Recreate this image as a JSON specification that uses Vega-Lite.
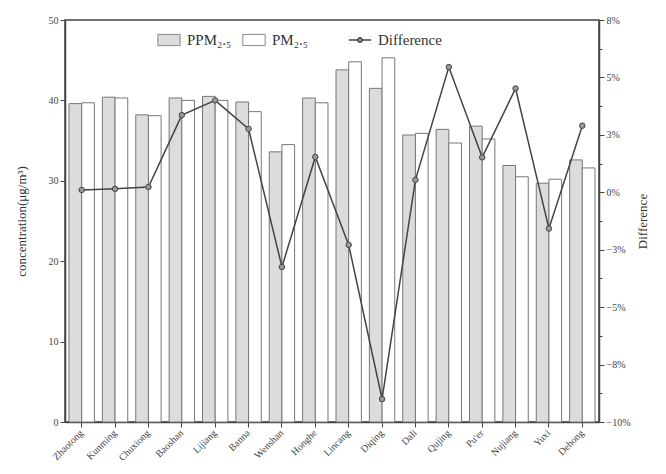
{
  "$schema": "https://vega.github.io/schema/vega-lite/v6.json",
  "width": 534,
  "height": 402,
  "autosize": {"type": "none"},
  "padding": {"left": 65, "top": 20, "right": 67, "bottom": 52},
  "background": "white",
  "config": {
    "font": "Liberation Serif",
    "view": {"stroke": "#444", "strokeWidth": 1.5},
    "axis": {
      "labelFont": "Liberation Serif",
      "titleFont": "Liberation Serif",
      "labelColor": "#444",
      "titleColor": "#333",
      "domainColor": "#444",
      "tickColor": "#444",
      "grid": false,
      "titleFontWeight": "normal",
      "labelFontSize": 10,
      "titleFontSize": 13,
      "domainWidth": 1.5,
      "tickWidth": 1
    },
    "legend": {
      "labelFont": "Liberation Serif",
      "labelFontSize": 15,
      "labelColor": "#333"
    }
  },
  "datasets": {
    "bars": [
      {"city": "Zhaotong", "series": "PPM₂.₅", "value": 39.6},
      {"city": "Zhaotong", "series": "PM₂.₅", "value": 39.7},
      {"city": "Kunming", "series": "PPM₂.₅", "value": 40.4},
      {"city": "Kunming", "series": "PM₂.₅", "value": 40.3},
      {"city": "Chuxiong", "series": "PPM₂.₅", "value": 38.2},
      {"city": "Chuxiong", "series": "PM₂.₅", "value": 38.1},
      {"city": "Baoshan", "series": "PPM₂.₅", "value": 40.3},
      {"city": "Baoshan", "series": "PM₂.₅", "value": 40.0},
      {"city": "Lijiang", "series": "PPM₂.₅", "value": 40.5},
      {"city": "Lijiang", "series": "PM₂.₅", "value": 40.0},
      {"city": "Banna", "series": "PPM₂.₅", "value": 39.8},
      {"city": "Banna", "series": "PM₂.₅", "value": 38.6},
      {"city": "Wenshan", "series": "PPM₂.₅", "value": 33.6},
      {"city": "Wenshan", "series": "PM₂.₅", "value": 34.5},
      {"city": "Honghe", "series": "PPM₂.₅", "value": 40.3},
      {"city": "Honghe", "series": "PM₂.₅", "value": 39.7},
      {"city": "Lincang", "series": "PPM₂.₅", "value": 43.8},
      {"city": "Lincang", "series": "PM₂.₅", "value": 44.8},
      {"city": "Diqing", "series": "PPM₂.₅", "value": 41.5},
      {"city": "Diqing", "series": "PM₂.₅", "value": 45.3},
      {"city": "Dali", "series": "PPM₂.₅", "value": 35.7},
      {"city": "Dali", "series": "PM₂.₅", "value": 35.9},
      {"city": "Qujing", "series": "PPM₂.₅", "value": 36.4},
      {"city": "Qujing", "series": "PM₂.₅", "value": 34.7},
      {"city": "Pu'er", "series": "PPM₂.₅", "value": 36.8},
      {"city": "Pu'er", "series": "PM₂.₅", "value": 35.2},
      {"city": "Nujiang", "series": "PPM₂.₅", "value": 31.9},
      {"city": "Nujiang", "series": "PM₂.₅", "value": 30.5},
      {"city": "Yuxi", "series": "PPM₂.₅", "value": 29.7},
      {"city": "Yuxi", "series": "PM₂.₅", "value": 30.2},
      {"city": "Dehong", "series": "PPM₂.₅", "value": 32.6},
      {"city": "Dehong", "series": "PM₂.₅", "value": 31.6}
    ],
    "diff": [
      {"city": "Zhaotong", "diff": 0.001},
      {"city": "Kunming", "diff": 0.0015},
      {"city": "Chuxiong", "diff": 0.0023},
      {"city": "Baoshan", "diff": 0.0336},
      {"city": "Lijiang", "diff": 0.040},
      {"city": "Banna", "diff": 0.0276},
      {"city": "Wenshan", "diff": -0.0325},
      {"city": "Honghe", "diff": 0.0154},
      {"city": "Lincang", "diff": -0.0229},
      {"city": "Diqing", "diff": -0.090},
      {"city": "Dali", "diff": 0.0054},
      {"city": "Qujing", "diff": 0.0545},
      {"city": "Pu'er", "diff": 0.0152},
      {"city": "Nujiang", "diff": 0.0452},
      {"city": "Yuxi", "diff": -0.0158},
      {"city": "Dehong", "diff": 0.029}
    ]
  },
  "layer": [
    {
      "layer": [
        {
          "data": {"name": "bars"},
          "mark": {"type": "bar", "stroke": "#777", "strokeWidth": 1},
          "encoding": {
            "x": {
              "field": "city", "type": "nominal", "sort": null,
              "scale": {"paddingInner": 0.24, "paddingOuter": 0.12},
              "axis": {"title": null, "labelAngle": -45, "labelAlign": "right", "labelBaseline": "middle", "tickSize": 5, "labelPadding": 4}
            },
            "xOffset": {"field": "series", "type": "nominal", "sort": ["PPM₂.₅", "PM₂.₅"]},
            "y": {
              "field": "value", "type": "quantitative",
              "scale": {"domain": [0, 50]},
              "axis": {"title": "concentration(μg/m³)", "values": [0, 10, 20, 30, 40, 50], "tickSize": 5, "titlePadding": 20}
            },
            "fill": {
              "field": "series", "type": "nominal",
              "sort": ["PPM₂.₅", "PM₂.₅"],
              "scale": {"domain": ["PPM₂.₅", "PM₂.₅"], "range": ["#dcdcdc", "#ffffff"]},
              "legend": {
                "title": null, "orient": "none", "direction": "horizontal",
                "legendX": 92, "legendY": 8,
                "symbolType": "M-1,-0.5H1V0.5H-1Z", "symbolSize": 500,
                "symbolStrokeColor": "#888", "symbolStrokeWidth": 1,
                "columnPadding": 8, "labelOffset": 6
              }
            }
          }
        },
        {
          "mark": {"type": "rule", "color": "#a6d47a", "strokeWidth": 1.5},
          "encoding": {"y": {"datum": 35, "type": "quantitative"}}
        },
        {
          "mark": {"type": "rule", "color": "#ea7f7f", "strokeWidth": 1.5},
          "encoding": {"y": {"datum": 25, "type": "quantitative"}}
        }
      ]
    },
    {
      "data": {"name": "diff"},
      "mark": {"type": "line", "strokeWidth": 1.5, "point": {"filled": true, "fill": "#999", "stroke": "#333", "strokeWidth": 1, "size": 30}},
      "encoding": {
        "x": {"field": "city", "type": "nominal", "sort": null},
        "y": {
          "field": "diff", "type": "quantitative",
          "scale": {"domain": [-0.1, 0.075]},
          "axis": {
            "orient": "right", "title": "Difference", "titlePadding": 20, "titleAngle": -90,
            "values": [-0.1, -0.0875, -0.075, -0.0625, -0.05, -0.0375, -0.025, -0.0125, 0, 0.0125, 0.025, 0.0375, 0.05, 0.0625, 0.075],
            "labelExpr": "abs(datum.value*40 - round(datum.value*40)) > 0.01 ? '' : format(datum.value, '.0%')",
            "tickSize": {"condition": {"test": "abs(datum.value*40 - round(datum.value*40)) > 0.01", "value": 3}, "value": 5}
          }
        },
        "stroke": {
          "datum": "Difference",
          "scale": {"range": ["#444"]},
          "legend": {
            "title": null, "orient": "none", "legendX": 283, "legendY": 8,
            "symbolType": "M-1,0H-0.2M0.2,0H1M0.2,0A0.2,0.2 0 1 1 -0.2,0A0.2,0.2 0 1 1 0.2,0",
            "symbolSize": 500, "symbolStrokeWidth": 1.5, "labelOffset": 6
          }
        }
      }
    }
  ],
  "resolve": {"scale": {"y": "independent"}}
}
